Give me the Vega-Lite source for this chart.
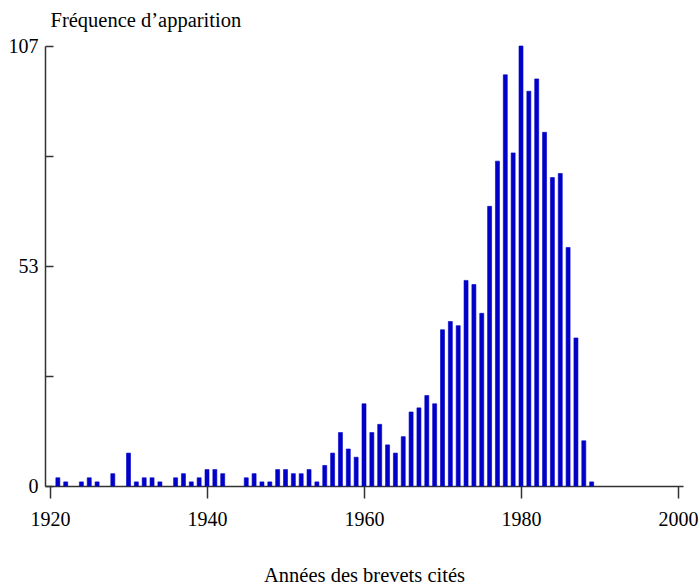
{
  "$schema": "https://vega.github.io/schema/vega-lite/v6.json",
  "width": 638,
  "height": 440,
  "autosize": {"type": "none"},
  "padding": {"left": 45, "top": 46, "right": 17, "bottom": 99},
  "background": "white",
  "config": {
    "view": {"stroke": null},
    "font": "Liberation Serif",
    "axis": {"grid": false, "domainColor": "#333333", "tickColor": "#333333", "domainWidth": 1.5, "tickWidth": 1.5, "labelColor": "black", "titleColor": "black", "labelFont": "Liberation Serif", "titleFont": "Liberation Serif", "labelFontSize": 20, "titleFontSize": 20.5, "titleFontWeight": "normal"}
  },
  "data": {
    "values": [
      {"year": 1921, "count": 2}, {"year": 1922, "count": 1}, {"year": 1924, "count": 1}, {"year": 1925, "count": 2},
      {"year": 1926, "count": 1}, {"year": 1928, "count": 3}, {"year": 1930, "count": 8}, {"year": 1931, "count": 1},
      {"year": 1932, "count": 2}, {"year": 1933, "count": 2}, {"year": 1934, "count": 1}, {"year": 1936, "count": 2},
      {"year": 1937, "count": 3}, {"year": 1938, "count": 1}, {"year": 1939, "count": 2}, {"year": 1940, "count": 4},
      {"year": 1941, "count": 4}, {"year": 1942, "count": 3}, {"year": 1945, "count": 2}, {"year": 1946, "count": 3},
      {"year": 1947, "count": 1}, {"year": 1948, "count": 1}, {"year": 1949, "count": 4}, {"year": 1950, "count": 4},
      {"year": 1951, "count": 3}, {"year": 1952, "count": 3}, {"year": 1953, "count": 4}, {"year": 1954, "count": 1},
      {"year": 1955, "count": 5}, {"year": 1956, "count": 8}, {"year": 1957, "count": 13}, {"year": 1958, "count": 9},
      {"year": 1959, "count": 7}, {"year": 1960, "count": 20}, {"year": 1961, "count": 13}, {"year": 1962, "count": 15},
      {"year": 1963, "count": 10}, {"year": 1964, "count": 8}, {"year": 1965, "count": 12}, {"year": 1966, "count": 18},
      {"year": 1967, "count": 19}, {"year": 1968, "count": 22}, {"year": 1969, "count": 20}, {"year": 1970, "count": 38},
      {"year": 1971, "count": 40}, {"year": 1972, "count": 39}, {"year": 1973, "count": 50}, {"year": 1974, "count": 49},
      {"year": 1975, "count": 42}, {"year": 1976, "count": 68}, {"year": 1977, "count": 79}, {"year": 1978, "count": 100},
      {"year": 1979, "count": 81}, {"year": 1980, "count": 107}, {"year": 1981, "count": 96}, {"year": 1982, "count": 99},
      {"year": 1983, "count": 86}, {"year": 1984, "count": 75}, {"year": 1985, "count": 76}, {"year": 1986, "count": 58},
      {"year": 1987, "count": 36}, {"year": 1988, "count": 11}, {"year": 1989, "count": 1}
    ]
  },
  "mark": {"type": "bar", "size": 4, "color": "#0000c8", "stroke": "#0000c8", "strokeWidth": 1, "strokeOpacity": 0.6},
  "encoding": {
    "x": {
      "field": "year", "type": "quantitative",
      "scale": {"domain": [1920, 2000], "nice": false, "zero": false},
      "axis": {
        "values": [1920, 1940, 1960, 1980, 2000],
        "format": "d",
        "tickSize": 12,
        "labelPadding": 11,
        "labelFlush": false,
        "title": "Années des brevets cités",
        "titleY": 89,
        "titleBaseline": "middle"
      }
    },
    "y": {
      "field": "count", "type": "quantitative",
      "scale": {"domain": [0, 107], "nice": false},
      "axis": {
        "values": [0, 26.75, 53.5, 80.25, 107],
        "labelExpr": "datum.value == 0 ? '0' : datum.value == 53.5 ? '53' : datum.value == 107 ? '107' : ''",
        "tickSize": -8,
        "labelPadding": 15,
        "labelBaseline": "middle",
        "title": "Fréquence d’apparition",
        "titleAngle": 0,
        "titleAlign": "left",
        "titleBaseline": "middle",
        "titleX": 5,
        "titleY": -26
      }
    }
  }
}
